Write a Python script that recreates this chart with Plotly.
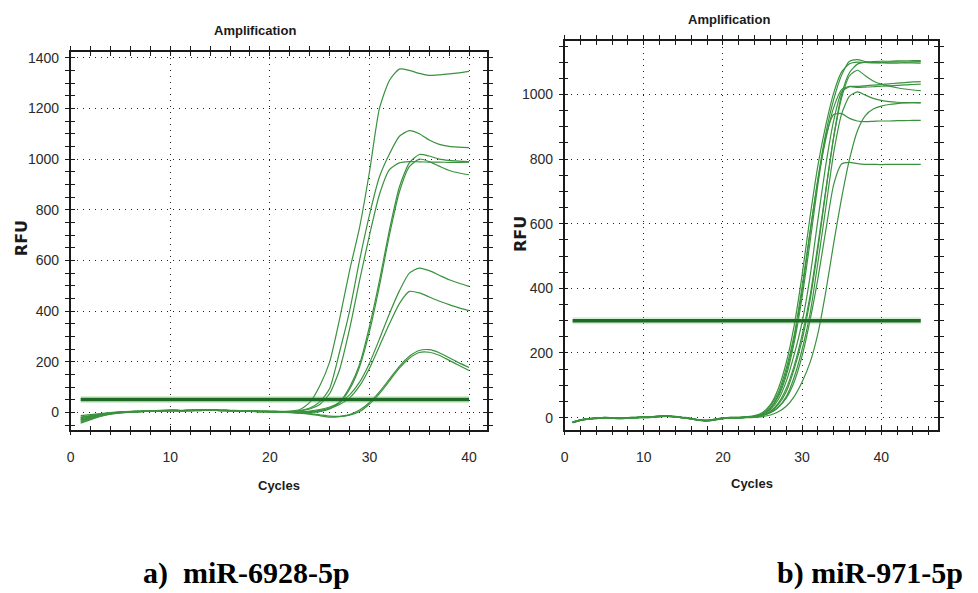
import plotly.graph_objects as go

# ---------------- data ----------------
cycles_a = list(range(1, 41))
cycles_b = list(range(1, 46))

# miR-6928-5p amplification curves (RFU per cycle)
a_wells = [
    [-12, -8, -4, 0, 3, 5, 6, 7, 9, 10, 9, 10, 11, 12, 10, 9, 8, 7, 6, 6, 5, 6,
     12, 40, 105, 200, 370, 560, 730, 950, 1200, 1310, 1355, 1350, 1338, 1330, 1332, 1336, 1340, 1346],
    [-20, -14, -8, -3, 1, 3, 5, 6, 7, 9, 8, 9, 10, 11, 9, 8, 7, 6, 5, 5, 4, 4,
     8, 18, 42, 95, 240, 400, 600, 780, 930, 1020, 1090, 1112, 1100, 1075, 1058, 1050, 1047, 1045],
    [-30, -20, -10, -4, 0, 3, 5, 6, 8, 9, 8, 9, 10, 11, 9, 8, 7, 6, 5, 4, 4, 3,
     6, 14, 32, 75, 170, 330, 520, 700, 860, 958, 985, 990, 989, 988, 988, 987, 987, 988],
    [-38, -25, -13, -5, 0, 2, 4, 5, 7, 8, 7, 8, 9, 10, 8, 7, 6, 5, 4, 3, 2, 1,
     0, 2, 6, 16, 42, 100, 190, 340, 520, 720, 890, 985, 1018, 1012, 1000, 995, 992, 990],
    [-42, -28, -15, -6, -1, 2, 4, 5, 6, 8, 7, 8, 9, 10, 8, 7, 6, 5, 4, 3, 2, 1,
     -1, 1, 4, 14, 38, 92, 180, 320, 500, 700, 870, 970, 1000, 990, 972, 955, 945, 938],
    [-25, -16, -8, -2, 2, 4, 5, 6, 8, 9, 8, 9, 10, 11, 9, 8, 7, 6, 5, 4, 3, 2,
     3, 6, 12, 22, 40, 70, 120, 195, 290, 390, 480, 550, 570, 560, 542, 524, 510, 498],
    [-18, -12, -6, -1, 2, 4, 5, 6, 7, 9, 8, 9, 10, 10, 9, 8, 7, 6, 5, 4, 3, 2,
     2, 4, 9, 18, 32, 58, 105, 175, 262, 350, 430, 478, 472, 456, 440, 426, 413, 402],
    [-35, -22, -11, -4, 0, 2, 4, 5, 6, 7, 7, 8, 8, 9, 8, 7, 6, 5, 4, 3, 2, 1,
     0, -4, -9, -14, -15, -8, 10, 40, 82, 132, 182, 222, 245, 248, 236, 216, 196, 178],
    [-28, -18, -9, -3, 1, 3, 4, 5, 6, 7, 6, 7, 8, 9, 8, 7, 6, 5, 3, 2, 1, 0,
     -2, -6, -12, -18, -16, -10, 4, 34, 75, 125, 175, 214, 237, 238, 226, 206, 186, 166],
]
a_threshold = 52

# miR-971-5p amplification curves (RFU per cycle)
b_wells = [
    [-14, -7, -3, -1, 1, 0, -1, 0, 1, 2, 3, 5, 6, 4, 1, -2, -7, -8, -5, -1, 1, 1, 3,
     6, 16, 40, 90, 170, 285, 440, 620, 780, 905, 1005, 1070, 1095, 1100, 1099, 1098, 1099, 1100, 1101, 1100, 1101, 1102],
    [-16, -9, -4, -2, 0, -1, -2, -1, 0, 1, 2, 4, 5, 3, 0, -3, -8, -9, -6, -2, 0, 0, 2,
     4, 11, 30, 70, 140, 245, 390, 570, 740, 880, 985, 1060, 1103, 1108, 1102, 1099, 1098, 1097, 1097, 1098, 1098, 1097],
    [-15, -8, -5, -3, -1, -2, -3, -2, -1, 0, 1, 3, 4, 2, -1, -4, -9, -10, -7, -3, -1, -1, 1,
     3, 8, 20, 45, 90, 160, 255, 375, 535, 705, 870, 1000, 1068, 1094, 1100, 1102, 1103, 1103, 1104, 1104, 1105, 1105],
    [-13, -7, -3, -1, 1, 0, -1, 0, 1, 2, 3, 5, 5, 3, 0, -3, -7, -8, -5, -1, 1, 1, 2,
     5, 13, 36, 78, 152, 255, 405, 575, 735, 862, 960, 1015, 1025, 1025, 1027, 1029, 1031, 1033, 1035, 1037, 1039, 1040],
    [-16, -9, -4, -2, 0, -1, -2, -1, 0, 1, 2, 4, 5, 3, 0, -3, -8, -9, -6, -2, 0, 0, 1,
     4, 10, 25, 56, 112, 195, 295, 435, 612, 782, 920, 1008, 1024, 1022, 1023, 1024, 1026, 1027, 1028, 1030, 1031, 1032],
    [-15, -8, -4, -2, 0, -1, -2, -1, 0, 1, 2, 4, 4, 2, -1, -4, -8, -10, -7, -3, -1, -1, 1,
     3, 8, 18, 40, 80, 150, 240, 362, 522, 700, 868, 990, 1058, 1075, 1058, 1042, 1032, 1026, 1021, 1017, 1014, 1012],
    [-14, -8, -4, -2, 0, -1, -2, -1, 0, 1, 2, 3, 5, 3, 0, -3, -8, -9, -6, -2, 0, 0, 1,
     2, 6, 15, 32, 65, 125, 210, 320, 480, 650, 820, 940, 995, 1008, 998, 988, 982, 978, 976, 975, 975, 974],
    [-15, -9, -5, -3, -1, -2, -3, -2, -1, 0, 1, 3, 4, 2, -1, -4, -9, -10, -7, -3, -1, -1, 0,
     1, 3, 8, 18, 35, 65, 110, 170, 260, 390, 540, 680, 800, 888, 935, 955, 964, 969, 972, 974, 975, 975],
    [-16, -8, -4, -2, 0, -1, -2, -1, 0, 1, 2, 4, 5, 3, 0, -3, -8, -9, -6, -2, 0, 0, 2,
     4, 10, 28, 65, 130, 232, 372, 542, 722, 870, 938, 941, 926, 918, 916, 917, 918, 918, 919, 919, 920, 920],
    [-14, -7, -4, -2, 0, -1, -2, -1, 0, 1, 2, 4, 5, 3, 0, -3, -8, -9, -6, -2, 0, 0, 1,
     3, 7, 16, 32, 60, 110, 190, 300, 430, 580, 722, 785, 790, 786, 784, 784, 783, 784, 784, 784, 784, 784],
]
b_threshold = 300

a_yticks = [0, 200, 400, 600, 800, 1000, 1200, 1400]
b_yticks = [0, 200, 400, 600, 800, 1000]
x_ticks = [0, 10, 20, 30, 40]

# ---------------- layout helpers ----------------
W, H = 978, 593


def fx(px):
    return px / W


def fy(py):
    return 1 - py / H


CURVE = "rgb(58,146,62)"
THRESH = "#1f6a26"
HALO = "rgba(110,200,110,0.30)"
TICKFONT = dict(family="Liberation Sans Narrow, Arial Narrow, Liberation Sans, Arial", size=14, color="#2a2a2a")

fig = go.Figure()


def add_panel(cycles, wells, thr, xa, ya, xo, yo):
    for w in wells:
        fig.add_trace(go.Scatter(x=cycles, y=w, mode="lines", xaxis=xa, yaxis=ya,
                                 line=dict(color=CURVE, width=1.2, shape="spline", smoothing=0.6),
                                 hoverinfo="skip", showlegend=False))
    thr_x = [cycles[0], cycles[-1]]
    fig.add_trace(go.Scatter(x=thr_x, y=[thr, thr], mode="lines", xaxis=xo, yaxis=yo,
                             line=dict(color=HALO, width=7), hoverinfo="skip", showlegend=False))
    fig.add_trace(go.Scatter(x=thr_x, y=[thr, thr], mode="lines", xaxis=xo, yaxis=yo,
                             line=dict(color=THRESH, width=3.5), hoverinfo="skip", showlegend=False))


add_panel(cycles_a, a_wells, a_threshold, "x", "y", "x3", "y3")
add_panel(cycles_b, b_wells, b_threshold, "x2", "y2", "x4", "y4")


def xaxis(domain, rng, anchor, overlay=None):
    d = dict(domain=domain, range=rng, anchor=anchor, tickmode="array", tickvals=x_ticks,
             showline=True, linecolor="#1a1a1a", linewidth=1.6, mirror="ticks",
             ticks="outside", ticklen=4, tickwidth=1.2, tickcolor="#1a1a1a",
             minor=dict(dtick=2, ticks="outside", ticklen=4, tickwidth=1, tickcolor="#1a1a1a"),
             showgrid=True, gridcolor="#222", gridwidth=1, griddash="1px,5px",
             zeroline=False, tickfont=TICKFONT, ticklabelstandoff=10, fixedrange=True)
    if overlay:
        d.update(overlaying=overlay, showgrid=False, showticklabels=False, ticks="inside",
                 minor=dict(dtick=2, ticks="inside", ticklen=4, tickwidth=1, tickcolor="#1a1a1a"))
    return d


def yaxis(domain, rng, anchor, vals, overlay=None):
    d = dict(domain=domain, range=rng, anchor=anchor, tickmode="array", tickvals=vals,
             showline=True, linecolor="#1a1a1a", linewidth=1.6, mirror="ticks",
             ticks="outside", ticklen=4, tickwidth=1.2, tickcolor="#1a1a1a",
             minor=dict(dtick=50, ticks="outside", ticklen=4, tickwidth=1, tickcolor="#1a1a1a"),
             showgrid=True, gridcolor="#222", gridwidth=1, griddash="1px,5px",
             zeroline=False, tickfont=TICKFONT, ticklabelstandoff=3, fixedrange=True)
    if overlay:
        d.update(overlaying=overlay, showgrid=False, showticklabels=False, ticks="inside",
                 minor=dict(dtick=50, ticks="inside", ticklen=4, tickwidth=1, tickcolor="#1a1a1a"))
    return d


a_xdom = [fx(67), fx(485)]
a_ydom = [fy(429), fy(50)]
b_xdom = [fx(563), fx(938)]
b_ydom = [fy(429), fy(39)]
a_xr, a_yr = [0, 41.8], [-67, 1423]
b_xr, b_yr = [0, 47.2], [-37, 1166]

fig.update_layout(
    width=W, height=H, margin=dict(l=0, r=0, t=0, b=0),
    paper_bgcolor="white", plot_bgcolor="white", showlegend=False,
    xaxis=xaxis(a_xdom, a_xr, "y"),
    yaxis=yaxis(a_ydom, a_yr, "x", a_yticks),
    xaxis2=xaxis(b_xdom, b_xr, "y2"),
    yaxis2=yaxis(b_ydom, b_yr, "x2", b_yticks),
    xaxis3=xaxis(a_xdom, a_xr, "y3", overlay="x"),
    yaxis3=yaxis(a_ydom, a_yr, "x3", a_yticks, overlay="y"),
    xaxis4=xaxis(b_xdom, b_xr, "y4", overlay="x2"),
    yaxis4=yaxis(b_ydom, b_yr, "x4", b_yticks, overlay="y2"),
)

LABEL = "Liberation Sans Narrow, Arial Narrow, Liberation Sans, Arial"
texts = [
    # panel titles
    dict(x=fx(252), y=fy(29), text="<b>Amplification</b>", font=dict(family=LABEL, size=13, color="#1a1a1a")),
    dict(x=fx(728), y=fy(18), text="<b>Amplification</b>", font=dict(family=LABEL, size=13, color="#1a1a1a")),
    # x-axis titles
    dict(x=fx(276), y=fy(485), text="<b>Cycles</b>", font=dict(family=LABEL, size=13, color="#1a1a1a")),
    dict(x=fx(751), y=fy(483), text="<b>Cycles</b>", font=dict(family=LABEL, size=13, color="#1a1a1a")),
    # y-axis titles
    dict(x=fx(17), y=fy(237), text="<b>RFU</b>", textangle=-90,
         font=dict(family="DejaVu Sans", size=16, color="#1a1a1a")),
    dict(x=fx(518), y=fy(233), text="<b>RFU</b>", textangle=-90,
         font=dict(family="DejaVu Sans", size=16, color="#1a1a1a")),
    # panel captions
    dict(x=fx(243), y=fy(573), text="<b>a)  miR-6928-5p</b>",
         font=dict(family="Liberation Serif, Times New Roman", size=30, color="black")),
    dict(x=fx(870), y=fy(573), text="<b>b) miR-971-5p</b>",
         font=dict(family="Liberation Serif, Times New Roman", size=30, color="black")),
]
for t in texts:
    fig.add_annotation(xref="paper", yref="paper", showarrow=False, xanchor="center", yanchor="middle", **t)

fig.write_html("out.html")
